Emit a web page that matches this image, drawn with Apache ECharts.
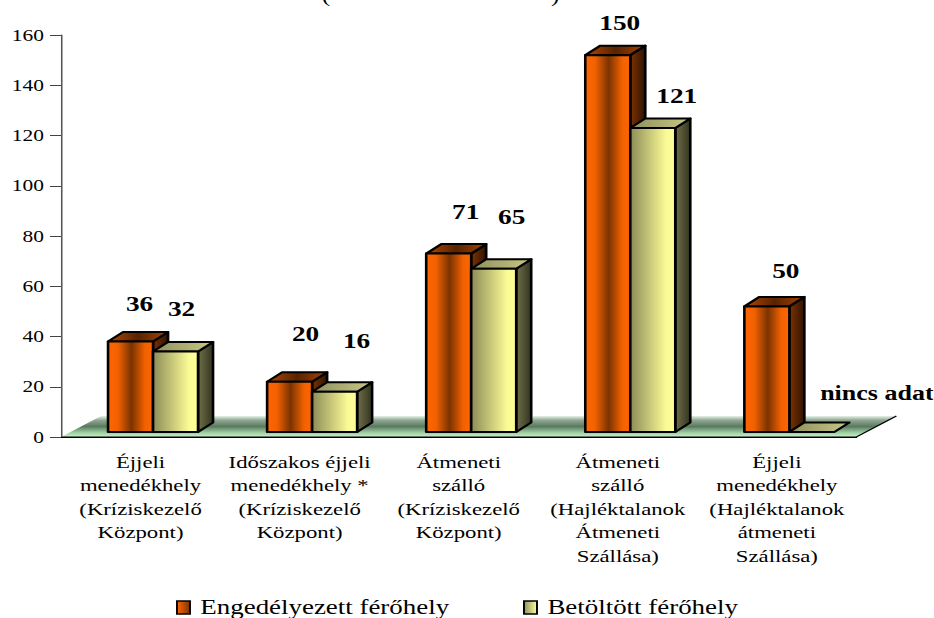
<!DOCTYPE html>
<html>
<head>
<meta charset="utf-8">
<title>Férőhelyek</title>
<script src="https://cdn.jsdelivr.net/npm/echarts@6/dist/echarts.min.js"></script>
<style>
  html, body { margin: 0; padding: 0; background: #fff; overflow: hidden; }
  #chart-container { height: 618px; transform-origin: 0 0; }
</style>
</head>
<body>
<div id="chart-container"></div>
<script>
const categories = [
  "Éjjeli\nmenedékhely\n(Kríziskezelő\nKözpont)",
  "Időszakos éjjeli\nmenedékhely *\n(Kríziskezelő\nKözpont)",
  "Átmeneti\nszálló\n(Kríziskezelő\nKözpont)",
  "Átmeneti\nszálló\n(Hajléktalanok\nÁtmeneti\nSzállása)",
  "Éjjeli\nmenedékhely\n(Hajléktalanok\nátmeneti\nSzállása)"
];
const engedelyezett = [36, 20, 71, 150, 50];
const betoltott = [32, 16, 65, 121, 0];
const engedelyezettName = "Engedélyezett férőhely";
const betoltottName = "Betöltött férőhely";
const noDataLabel = "nincs adat";

// label nudges from the bar's top centre, px on the page
const nudgeA = [[9, -38], [16, -48], [17, -42], [12, -32], [19, -36]];
const nudgeB = [[6, -43], [22, -51], [18, -52], [24, -32], [65, -39]];

// the source picture is stretched sideways, so the whole chart is too
const STRETCH = 1.3;
const sx = (px) => px / STRETCH;
const FONT = "Liberation Serif";

const grad = (...stops) => ({
  type: "linear", x: 0, y: 0, x2: 1, y2: 0,
  colorStops: stops.map((s) => ({ offset: s[0], color: s[1] })),
});
const orange = {
  front: grad([0, "#ff6600"], [0.22, "#f26100"], [0.52, "#7a3300"], [0.82, "#f26100"], [1, "#ff6600"]),
  top: grad([0, "#b34700"], [0.5, "#592300"], [1, "#a84300"]),
  side: grad([0, "#7f3300"], [1, "#2e1200"]),
};
const yellow = {
  front: grad([0, "#8c8c58"], [0.8, "#fbfb96"], [1, "#ffff99"]),
  top: grad([0, "#8f8f5c"], [1, "#c8c888"]),
  side: grad([0, "#70704a"], [1, "#33331f"]),
};

const depthX = sx(15);
const depthY = 9.5;
const barW = sx(45);
const baseLift = 5; // bars stand on the floor, above the axis line

function barSeries(name, values, nudges, colors, shift) {
  return {
    name: name,
    type: "custom",
    z: 3,
    data: values.map((v, i) => [i, v]),
    encode: { x: 0, y: 1 },
    renderItem: (params, api) => {
      const i = api.value(0);
      const v = api.value(1);
      const center = api.coord([i, 0])[0];
      const x0 = center + sx(12.5) + shift * barW;
      const x1 = x0 + barW;
      const yb = api.coord([i, 0])[1] - baseLift;
      const yt = api.coord([i, v])[1] - baseLift;
      const line = { stroke: "#000", lineWidth: 2, lineJoin: "round" };
      const poly = (points, fill) => ({
        type: "polygon",
        shape: { points: points },
        style: Object.assign({ fill: fill }, line),
      });
      const children = [];
      if (v > 0) {
        children.push(poly([[x1, yt], [x1 + depthX, yt - depthY], [x1 + depthX, yb - depthY], [x1, yb]], colors.side));
      }
      children.push(poly([[x0, yt], [x0 + depthX, yt - depthY], [x1 + depthX, yt - depthY], [x1, yt]], colors.top));
      if (v > 0) {
        children.push(poly([[x0, yt], [x1, yt], [x1, yb], [x0, yb]], colors.front));
      }
      const n = nudges[i];
      children.push({
        type: "text",
        z2: 10,
        style: {
          x: x0 + barW / 2 + sx(n[0]),
          y: yt + n[1],
          text: v > 0 ? String(v) : noDataLabel,
          fill: "#000",
          font: "bold " + (v > 0 ? 21 : 20) + "px '" + FONT + "'",
          align: "center",
          verticalAlign: "middle",
        },
      });
      return { type: "group", children: children };
    },
  };
}

const floorSeries = {
  type: "custom",
  z: 1,
  silent: true,
  data: [[0, 0]],
  encode: { x: 0, y: 1 },
  renderItem: (params, api) => {
    const band = api.size([1, 0])[0];
    const left = api.coord([0, 0])[0] - band / 2;
    const right = api.coord([categories.length - 1, 0])[0] + band / 2;
    const y = api.coord([0, 0])[1];
    const back = y - 21;
    const shift = sx(40);
    return {
      type: "group",
      children: [
        {
          type: "polygon",
          shape: { points: [[left, y], [left + shift, back], [right + shift, back], [right, y]] },
          style: {
            fill: {
              type: "linear", x: 0, y: 0, x2: 0, y2: 1,
              colorStops: [
                { offset: 0, color: "#e8f0e8" },
                { offset: 0.2, color: "#8fa892" },
                { offset: 0.5, color: "#5a7a5f" },
                { offset: 0.8, color: "#9fd0a2" },
                { offset: 1, color: "#c8f4ca" },
              ],
            },
          },
        },
        {
          type: "polyline",
          shape: { points: [[left, y], [right, y], [right + shift, back]] },
          style: { fill: null, stroke: "#000", lineWidth: 1.2 },
        },
      ],
    };
  },
};

const element = document.getElementById("chart-container");
element.style.width = 934 / STRETCH + "px";
element.style.transform = "scaleX(" + STRETCH + ")";
const myChart = echarts.init(element, null, { renderer: "svg" });

const option = {
  animation: false,
  backgroundColor: "#fff",
  grid: { left: sx(61), right: sx(77), top: 35, bottom: 181, containLabel: false },
  xAxis: {
    type: "category",
    data: categories,
    axisLine: { lineStyle: { color: "#000", width: 1.2 } },
    axisTick: { length: 11, lineStyle: { color: "#444" } },
    axisLabel: {
      interval: 0,
      margin: 13,
      fontFamily: FONT,
      fontSize: 17.5,
      lineHeight: 23.5,
      color: "#000",
    },
  },
  yAxis: {
    type: "value",
    min: 0,
    max: 160,
    interval: 20,
    splitLine: { show: false },
    axisLine: { show: true, lineStyle: { color: "#555", width: 1.2 } },
    axisTick: { show: true, length: sx(11), lineStyle: { color: "#444" } },
    axisLabel: { margin: sx(17), fontFamily: FONT, fontSize: 16.5, color: "#000" },
  },
  legend: {
    left: sx(176),
    top: 597,
    padding: 0,
    itemWidth: sx(13),
    itemHeight: 13,
    itemGap: sx(74),
    icon: "rect",
    textStyle: { fontFamily: FONT, fontSize: 20.7, color: "#000", padding: [0, 0, 0, 3] },
    data: [
      { name: engedelyezettName, itemStyle: { color: grad([0, "#ff6600"], [1, "#803300"]), borderColor: "#000", borderWidth: 1.5 } },
      { name: betoltottName, itemStyle: { color: grad([0, "#909060"], [1, "#ffff99"]), borderColor: "#000", borderWidth: 1.5 } },
    ],
  },
  graphic: [
    // bottoms of the title's brackets, the title itself is cut off by the top edge
    { type: "text", left: sx(322), top: -14, style: { text: "(", font: "19px '" + FONT + "'", fill: "#000" } },
    { type: "text", left: sx(551), top: -14, style: { text: ")", font: "19px '" + FONT + "'", fill: "#000" } },
  ],
  series: [
    floorSeries,
    barSeries(engedelyezettName, engedelyezett, nudgeA, orange, -1),
    barSeries(betoltottName, betoltott, nudgeB, yellow, 0),
  ],
};
myChart.setOption(option);
</script>
</body>
</html>
